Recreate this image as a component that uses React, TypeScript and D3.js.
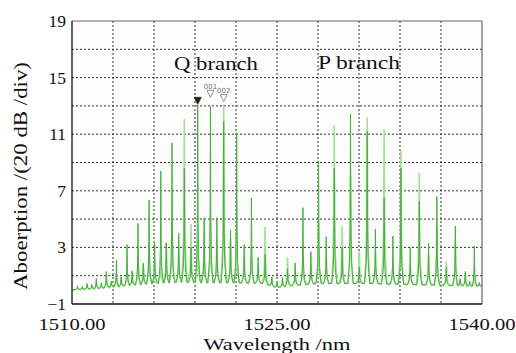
import React from "react";
import * as d3 from "d3";

// peak positions (nm) with heights of the dark and the pale trace (20 dB/div units)
const peakNm = [
  1510.4, 1510.75, 1511.1, 1511.45, 1511.78, 1512.15, 1512.51, 1512.88, 1513.25, 1513.6,
  1514.03, 1514.4, 1514.83, 1515.22, 1515.64, 1516.05, 1516.5, 1516.9, 1517.32, 1517.81,
  1518.22, 1518.71, 1519.2, 1519.67, 1520.13, 1520.6, 1521.1, 1521.6, 1522.05, 1522.6,
  1523.13, 1523.62, 1524.13, 1524.62, 1525.0, 1525.4, 1525.77, 1526.33, 1526.9, 1527.48,
  1528.04, 1528.6, 1529.19, 1529.77, 1530.38, 1531.02, 1531.6, 1532.2, 1532.84, 1533.48,
  1534.07, 1534.75, 1535.41, 1536.09, 1536.7, 1537.39, 1538.05, 1538.4, 1538.78, 1539.1,
  1539.44, 1539.8,
];
const darkH = [
  0.25, 0.2, 0.45, 0.35, 0.8, 0.5, 1.3, 0.6, 2.1, 0.9,
  3.2, 1.35, 4.7, 1.9, 6.35, 3.3, 8.4, 3.3, 10.4, 4.0,
  8.6, 3.0, 13.06, 5.1, 12.95, 5.1, 11.9, 4.2, 11.1, 3.2,
  6.5, 2.3, 2.5, 0.9, 0.5, 0.9, 1.5, 1.9, 5.8, 2.7,
  9.06, 3.76, 8.6, 3.0, 12.43, 1.6, 11.2, 4.3, 6.5, 3.8,
  8.6, 3.0, 6.25, 3.3, 6.6, 1.6, 4.5, 0.8, 1.3, 0.6,
  3.1, 0.5,
];
const lightH = [
  0.2, 0.2, 0.35, 0.3, 0.6, 0.45, 1.0, 0.6, 1.2, 0.9,
  1.6, 1.3, 2.5, 1.8, 3.3, 2.0, 2.3, 3.4, 4.7, 3.0,
  12.05, 4.65, 3.5, 4.0, 5.2, 3.5, 13.1, 3.6, 4.5, 2.5,
  3.1, 1.8, 4.46, 0.9, 0.5, 0.7, 2.3, 1.5, 2.4, 1.8,
  4.7, 2.3, 11.65, 4.5, 8.12, 2.7, 12.2, 2.6, 11.35, 2.0,
  9.8, 1.8, 8.3, 2.5, 4.5, 2.0, 3.5, 0.7, 1.2, 0.5,
  1.5, 0.45,
];

// valley level along the spectrum
const baseNm = [1510, 1512, 1514, 1516, 1518, 1520, 1522, 1524, 1525, 1526, 1528, 1530, 1532, 1534, 1536, 1538, 1540];
const baseVal = [0.0, 0.1, 0.3, 0.45, 0.55, 0.5, 0.5, 0.45, 0.15, 0.3, 0.45, 0.45, 0.45, 0.4, 0.35, 0.3, 0.25];

const yTicks = [19, 15, 11, 7, 3, -1];
const yGrid = [17, 15, 13, 11, 9, 7, 5, 3, 1];
const xGrid = [1513, 1516, 1519, 1522, 1525, 1528, 1531, 1534, 1537];
const xTicks = [1510, 1525, 1540];

const markerNm = [1519.2, 1520.13, 1521.1];
const markerLevel = [13.25, 13.75, 13.45];
const markerLabel = ["", "001", "002"];

const W = 516;
const H = 353;
const left = 72;
const right = 482;
const top = 21;
const bottom = 304;

// offsets (nm) and fraction of peak height: one line shape per trace
const darkShape: [number, number][] = [
  [-0.19, 0], [-0.12, 0.07], [-0.07, 0.14], [-0.03, 0.34], [0, 1],
  [0.03, 0.34], [0.07, 0.14], [0.12, 0.07], [0.19, 0],
];
const lightShape: [number, number][] = [
  [-0.22, 0], [-0.14, 0.09], [-0.08, 0.19], [-0.04, 0.4], [0, 1],
  [0.04, 0.4], [0.08, 0.19], [0.14, 0.09], [0.22, 0],
];

export default function App() {
  const x = d3.scaleLinear().domain([1510, 1540]).range([left, right]);
  const y = d3.scaleLinear().domain([-1, 19]).range([bottom, top]);
  const base = d3.scaleLinear().domain(baseNm).range(baseVal).clamp(true);

  const trace = (heights: number[], shape: [number, number][]) => {
    const pts: [number, number][] = [[1510, base(1510)]];
    peakNm.forEach((p, i) => {
      shape.forEach(([dx, f]) => {
        const b = base(p + dx);
        pts.push([p + dx, b + f * Math.max(0, heights[i] - b)]);
      });
    });
    pts.push([1540, base(1540)]);
    pts.sort((a, b) => a[0] - b[0]);
    return d3
      .line<[number, number]>()
      .x((d) => x(d[0]))
      .y((d) => y(d[1]))(pts.filter((d) => d[0] >= 1510 && d[0] <= 1540)) as string;
  };

  const font = "'Liberation Serif', 'Times New Roman', serif";
  const fs = 19.5;
  const tfs = 17.5;

  return (
    <svg width={W} height={H} style={{ position: "absolute", left: 0, top: 0, background: "#fff" }}>
      <rect x={left} y={top} width={right - left} height={bottom - top} fill="#fdfdfd" />
      {yGrid.map((v) => (
        <line key={"gy" + v} x1={left} x2={right} y1={y(v)} y2={y(v)} stroke="#333" strokeWidth={1} strokeDasharray="2,2" />
      ))}
      {xGrid.map((v) => (
        <line key={"gx" + v} x1={x(v)} x2={x(v)} y1={top} y2={bottom} stroke="#333" strokeWidth={1} strokeDasharray="2,2" />
      ))}

      <path d={trace(lightH, lightShape)} fill="none" stroke="#a9dd9c" strokeWidth={1.6} />
      <path d={trace(darkH, darkShape)} fill="none" stroke="#44b03c" strokeWidth={1} />

      {markerNm.map((m, i) => {
        const cx = x(m);
        const cy = y(markerLevel[i]);
        return (
          <g key={"m" + i}>
            <path
              d={`M${cx - 3.5},${cy - 5}L${cx + 3.5},${cy - 5}L${cx},${cy + 2}Z`}
              fill={markerLabel[i] ? "#fff" : "#222"}
              stroke={markerLabel[i] ? "#777" : "#222"}
              strokeWidth={0.8}
            />
            {markerLabel[i] && (
              <text x={cx} y={cy - 6.5} fontSize={7} fill="#777" textAnchor="middle" fontFamily="'DejaVu Sans', sans-serif">
                {markerLabel[i]}
              </text>
            )}
          </g>
        );
      })}

      <line x1={left} x2={right} y1={top} y2={top} stroke="#666" strokeWidth={1.2} />
      <line x1={right} x2={right} y1={top} y2={bottom} stroke="#666" strokeWidth={1.2} />
      <line x1={left} x2={left} y1={top} y2={bottom} stroke="#111" strokeWidth={1.3} />
      <line x1={left} x2={right} y1={bottom} y2={bottom} stroke="#111" strokeWidth={1.3} />

      {yTicks.map((v) => (
        <text key={"ty" + v} x={66} y={y(v)} dy="0.34em" textAnchor="end" fontSize={tfs} fontFamily={font} fill="#111">
          {v < 0 ? "\u2212" + Math.abs(v) : v}
        </text>
      ))}
      {xTicks.map((v) => (
        <text
          key={"tx" + v}
          x={x(v)}
          y={329.5}
          textAnchor="middle"
          fontSize={tfs}
          fontFamily={font}
          fill="#111"
          textLength={67}
          lengthAdjust="spacingAndGlyphs"
        >
          {v.toFixed(2)}
        </text>
      ))}

      <text x={216} y={70} textAnchor="middle" fontSize={fs} fontFamily={font} fill="#111" textLength={84} lengthAdjust="spacingAndGlyphs">
        Q branch
      </text>
      <text x={359} y={69} textAnchor="middle" fontSize={fs} fontFamily={font} fill="#111" textLength={82} lengthAdjust="spacingAndGlyphs">
        P branch
      </text>

      <text x={277} y={349.5} textAnchor="middle" fontSize={tfs} fontFamily={font} fill="#111" textLength={147} lengthAdjust="spacingAndGlyphs">
        Wavelength /nm
      </text>
      <text
        transform={`translate(27,176) rotate(-90)`}
        textAnchor="middle"
        fontSize={fs}
        fontFamily={font}
        fill="#111"
        textLength={228}
        lengthAdjust="spacingAndGlyphs"
      >
        Aboerption /(20 dB /div)
      </text>
    </svg>
  );
}
